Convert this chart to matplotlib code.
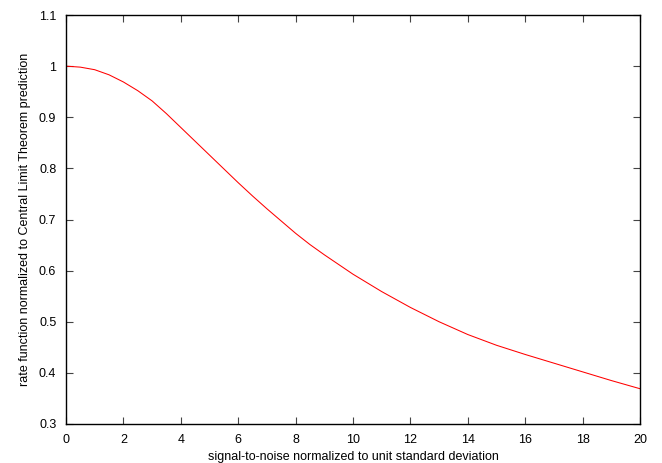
import matplotlib
matplotlib.use("Agg")
import matplotlib.pyplot as plt

# values
snr = [0, 0.5, 1, 1.5, 2, 2.5, 3, 3.5, 4, 4.5, 5, 5.5, 6, 6.5, 7, 7.5,
       8, 8.5, 9, 9.5, 10, 11, 12, 13, 14, 15, 16, 17, 18, 19, 20]
rate = [1.000, 0.998, 0.993, 0.983, 0.969, 0.952, 0.932, 0.907, 0.880,
        0.853, 0.826, 0.799, 0.772, 0.746, 0.721, 0.697, 0.673, 0.651,
        0.631, 0.612, 0.593, 0.559, 0.528, 0.500, 0.475, 0.454, 0.436,
        0.419, 0.402, 0.385, 0.369]

xticks = [0, 2, 4, 6, 8, 10, 12, 14, 16, 18, 20]
yticks = [0.3, 0.4, 0.5, 0.6, 0.7, 0.8, 0.9, 1.0, 1.1]
ylabels = ["0.3", "0.4", "0.5", "0.6", "0.7", "0.8", "0.9", "1", "1.1"]

plt.rcParams['font.family'] = ['Liberation Sans', 'DejaVu Sans']

fig = plt.figure(figsize=(6.62, 4.63), dpi=100)
ax = fig.add_axes([66 / 662, 1 - 424 / 463, (640 - 66) / 662, (424 - 15) / 463])

ax.plot(snr, rate, color='#ff0000', linewidth=0.75)

ax.set_xlim(0, 20)
ax.set_ylim(0.3, 1.1)
ax.set_xticks(xticks)
ax.set_xticklabels([str(t) for t in xticks])
ax.set_yticks(yticks)
ax.set_yticklabels(ylabels)

ax.tick_params(direction='in', length=5, width=0.8, color='#444444',
               top=True, right=True, labelsize=9, pad=7)
for s in ax.spines.values():
    s.set_linewidth(1.0)
    s.set_color('black')

ax.set_xlabel("signal-to-noise normalized to unit standard deviation", fontsize=9, labelpad=4)
ax.set_ylabel("rate function normalized to Central Limit Theorem prediction", fontsize=9, labelpad=6)

fig.savefig("out.png", dpi=100)
